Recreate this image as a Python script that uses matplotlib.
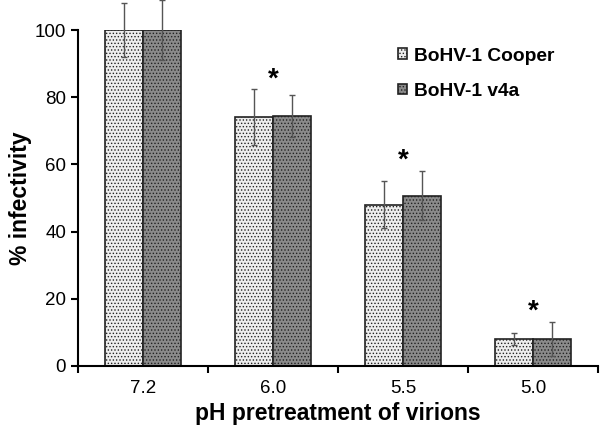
import numpy as np
import matplotlib
matplotlib.use("Agg")
import matplotlib.pyplot as plt

plt.rcParams['font.family'] = ['Liberation Sans', 'DejaVu Sans']
plt.rcParams['hatch.linewidth'] = 0.6

ph_labels = ['7.2', '6.0', '5.5', '5.0']
cooper = [100, 74, 48, 8]
cooper_err = [8, 8.3, 7, 1.7]
v4a = [100, 74.5, 50.7, 8.1]
v4a_err = [9, 6.2, 7.3, 5]
signif = [False, True, True, True]

x = np.arange(len(ph_labels))
w = 0.29

fig = plt.figure(figsize=(6, 4.29), dpi=100)
ax = fig.add_axes([0.13, 0.147, 0.867, 0.783])

ax.bar(x - w / 2, cooper, w, color='#ededed', edgecolor='#222222',
       linewidth=1.2, hatch='.....', label='BoHV-1 Cooper', zorder=2)
ax.bar(x + w / 2, v4a, w, color='#8a8a8a', edgecolor='#222222',
       linewidth=1.2, hatch='.....', label='BoHV-1 v4a', zorder=2)

ax.errorbar(x - w / 2, cooper, yerr=cooper_err, fmt='none', ecolor='#555555',
            elinewidth=1, capsize=2, capthick=1, zorder=3, clip_on=False)
ax.errorbar(x + w / 2, v4a, yerr=v4a_err, fmt='none', ecolor='#555555',
            elinewidth=1, capsize=2, capthick=1, zorder=3, clip_on=False)

# significance stars above each group
for i, s in enumerate(signif):
    if s:
        top = max(cooper[i] + cooper_err[i], v4a[i] + v4a_err[i])
        ax.text(x[i], top - 0.8, '*', ha='center', va='bottom',
                fontsize=20, fontweight='bold')

ax.set_xlim(-0.5, len(ph_labels) - 0.5)
ax.set_ylim(0, 100)
ax.set_yticks([0, 20, 40, 60, 80, 100])
ax.set_xticks(np.arange(len(ph_labels) + 1) - 0.5)
ax.set_xticklabels([])
ax.set_xticks(x, minor=True)
ax.set_xticklabels(ph_labels, minor=True)
ax.tick_params(axis='x', which='minor', length=0, pad=10, labelsize=13.5)
ax.tick_params(axis='x', which='major', direction='out', length=5, width=1.5)
ax.tick_params(axis='y', direction='out', length=5, width=1.5, labelsize=13.5)

for side in ['top', 'right']:
    ax.spines[side].set_visible(False)
for side in ['left', 'bottom']:
    ax.spines[side].set_linewidth(1.5)

ax.set_xlabel('pH pretreatment of virions', fontsize=16.5, fontweight='bold', labelpad=4)
ax.set_ylabel('% infectivity', fontsize=16.5, fontweight='bold', labelpad=2)

leg = ax.legend(loc='upper left', bbox_to_anchor=(0.663, 0.889),
                bbox_transform=fig.transFigure, frameon=False,
                borderpad=0, borderaxespad=0,
                prop={'weight': 'bold', 'size': 13.75}, handlelength=0.5,
                handleheight=0.5, handletextpad=0.35, labelspacing=0.95)

fig.savefig('out.png', dpi=100)
